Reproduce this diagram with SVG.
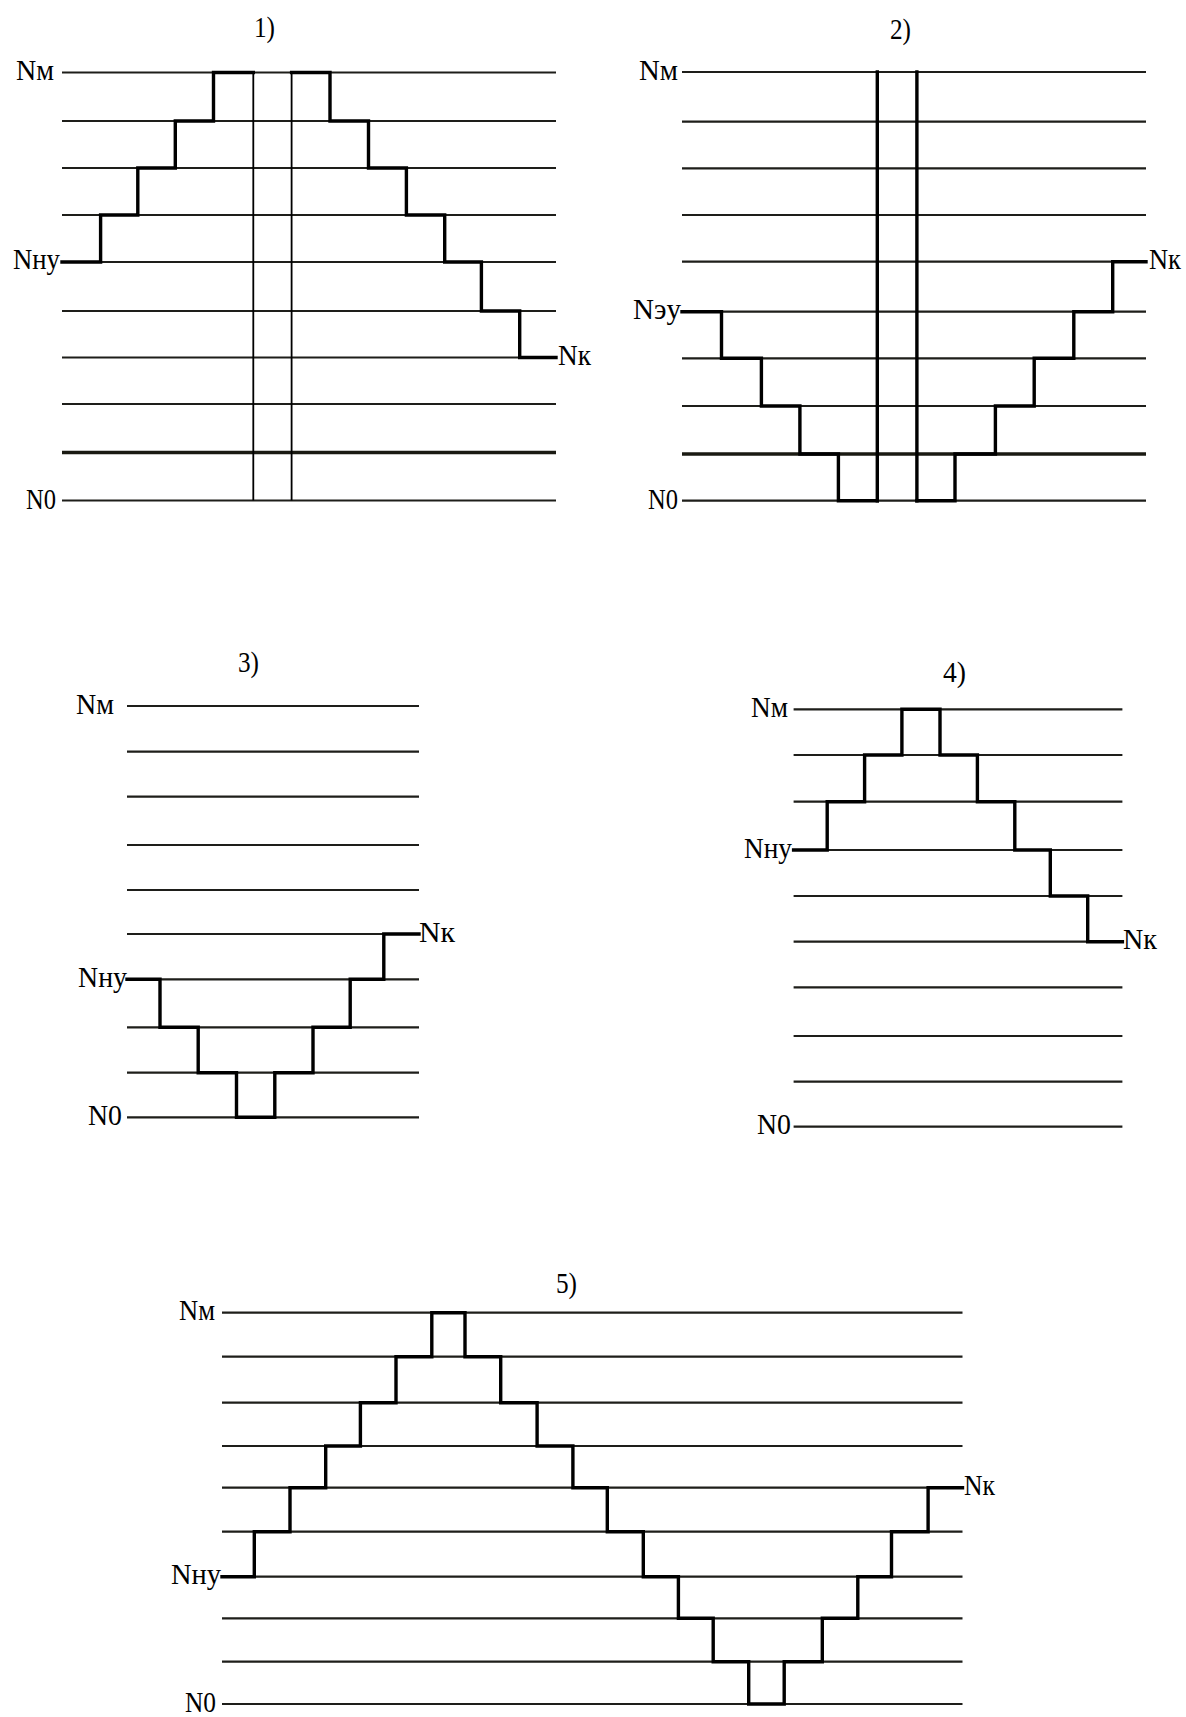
<svg xmlns="http://www.w3.org/2000/svg" width="1186" height="1717" viewBox="0 0 1186 1717">
  <style>
    .grid { stroke: #1e1e1a; stroke-width: 2.2; fill: none; }
    .grid-heavy { stroke: #1a1a12; stroke-width: 3.6; fill: none; }
    .step { stroke: #000; stroke-width: 3.4; fill: none; stroke-linejoin: miter; stroke-linecap: square; }
    .thin { stroke: #000; stroke-width: 1.8; fill: none; }
    .lbl { font-family: "Liberation Serif", "Times New Roman", serif; font-size: 29px; fill: #000; }
  </style>

  <rect width="1186" height="1717" fill="#fff"/>

  <!-- Panel 1 -->
  <g id="panel-1">
    <g id="panel-1-levels">
      <path class="grid" d="M62,72.5H556 M62,121H556 M62,168H556 M62,215H556 M62,262H556 M62,311H556 M62,357.5H556 M62,404H556 M62,500.5H556"/>
      <path class="grid-heavy" d="M62,452.5H556"/>
    </g>
    <g id="panel-1-connectors">
      <path class="thin" d="M253.3,72.5V500.5 M291.6,72.5V500.5"/>
      <path class="step" d="M62,262H100.6V215H137.8V168H175.3V121H213.5V72.5H253.3"/>
      <path class="step" d="M291.6,72.5H330V121H368.5V168H406.4V215H444.7V262H481.4V311H519.7V357.5H556"/>
    </g>
    <text class="lbl" x="254" y="37" textLength="21" lengthAdjust="spacingAndGlyphs">1)</text>
    <text class="lbl" x="16" y="80" textLength="38" lengthAdjust="spacingAndGlyphs">Nм</text>
    <text class="lbl" x="13" y="269" textLength="47" lengthAdjust="spacingAndGlyphs">Nну</text>
    <text class="lbl" x="558" y="365" textLength="33" lengthAdjust="spacingAndGlyphs">Nк</text>
    <text class="lbl" x="26" y="509" textLength="30" lengthAdjust="spacingAndGlyphs">N0</text>
  </g>

  <!-- Panel 2 -->
  <g id="panel-2">
    <g id="panel-2-levels">
      <path class="grid" d="M682,72H1146 M682,121.7H1146 M682,168.3H1146 M682,215H1146 M682,261.7H1146 M682,311.7H1146 M682,358.3H1146 M682,406H1146 M682,500.7H1146"/>
      <path class="grid-heavy" d="M682,454H1146"/>
    </g>
    <g id="panel-2-connectors">
      <path class="step" d="M877.3,72V500.7 M916.9,72V500.7"/>
      <path class="step" d="M682,311.7H721.5V358.3H761.4V406H799.9V454H838.4V500.7H877.3"/>
      <path class="step" d="M916.9,500.7H955V454H995.4V406H1034.2V358.3H1073.8V311.7H1112.7V261.7H1146"/>
    </g>
    <text class="lbl" x="890" y="39" textLength="21" lengthAdjust="spacingAndGlyphs">2)</text>
    <text class="lbl" x="639" y="79.5" textLength="39" lengthAdjust="spacingAndGlyphs">Nм</text>
    <text class="lbl" x="633" y="319" textLength="48" lengthAdjust="spacingAndGlyphs">Nэу</text>
    <text class="lbl" x="1149" y="269" textLength="32" lengthAdjust="spacingAndGlyphs">Nк</text>
    <text class="lbl" x="648" y="508.5" textLength="30" lengthAdjust="spacingAndGlyphs">N0</text>
  </g>

  <!-- Panel 3 -->
  <g id="panel-3">
    <g id="panel-3-levels">
      <path class="grid" d="M127,706H419 M127,751.7H419 M127,796.7H419 M127,845H419 M127,890H419 M127,934H419 M127,979.3H419 M127,1027.3H419 M127,1072.7H419 M127,1117.3H419"/>
    </g>
    <g id="panel-3-connectors">
      <path class="step" d="M127,979.3H160V1027.3H198.2V1072.7H236.5V1117.3H274.8V1072.7H313V1027.3H350.2V979.3H383.8V934H419"/>
    </g>
    <text class="lbl" x="238" y="672" textLength="21" lengthAdjust="spacingAndGlyphs">3)</text>
    <text class="lbl" x="76" y="713.5" textLength="38" lengthAdjust="spacingAndGlyphs">Nм</text>
    <text class="lbl" x="78" y="987" textLength="49" lengthAdjust="spacingAndGlyphs">Nну</text>
    <text class="lbl" x="419" y="942" textLength="36" lengthAdjust="spacingAndGlyphs">Nк</text>
    <text class="lbl" x="88" y="1125" textLength="34" lengthAdjust="spacingAndGlyphs">N0</text>
  </g>

  <!-- Panel 4 -->
  <g id="panel-4">
    <g id="panel-4-levels">
      <path class="grid" d="M793.6,709.3H1122.4 M793.6,755H1122.4 M793.6,801.7H1122.4 M793.6,850H1122.4 M793.6,896H1122.4 M793.6,941.7H1122.4 M793.6,987.3H1122.4 M793.6,1036H1122.4 M793.6,1081.7H1122.4 M793.6,1126.7H1122.4"/>
    </g>
    <g id="panel-4-connectors">
      <path class="step" d="M793.6,850H827.2V801.7H864.6V755H901.9V709.3H940V755H977.4V801.7H1014.8V850H1050.3V896H1087.7V941.7H1122.4"/>
    </g>
    <text class="lbl" x="943" y="682" textLength="23" lengthAdjust="spacingAndGlyphs">4)</text>
    <text class="lbl" x="751" y="717" textLength="37" lengthAdjust="spacingAndGlyphs">Nм</text>
    <text class="lbl" x="744" y="857.5" textLength="48" lengthAdjust="spacingAndGlyphs">Nну</text>
    <text class="lbl" x="1123" y="949" textLength="34" lengthAdjust="spacingAndGlyphs">Nк</text>
    <text class="lbl" x="757" y="1134" textLength="34" lengthAdjust="spacingAndGlyphs">N0</text>
  </g>

  <!-- Panel 5 -->
  <g id="panel-5">
    <g id="panel-5-levels">
      <path class="grid" d="M222,1312.7H962.5 M222,1356.7H962.5 M222,1402.7H962.5 M222,1446H962.5 M222,1487.7H962.5 M222,1531.7H962.5 M222,1576.7H962.5 M222,1618.3H962.5 M222,1661.7H962.5 M222,1704H962.5"/>
    </g>
    <g id="panel-5-connectors">
      <path class="step" d="M222,1576.7H254.3V1531.7H290V1487.7H325.7V1446H360.4V1402.7H396V1356.7H431.8V1312.7H465V1356.7H500.7V1402.7H537.1V1446H572.9V1487.7H607.3V1531.7H643.3V1576.7H678.4V1618.3H713.2V1661.7H748.7V1704H784.2V1661.7H822.3V1618.3H857.8V1576.7H891.5V1531.7H928.1V1487.7H962.5"/>
    </g>
    <text class="lbl" x="556" y="1293" textLength="21" lengthAdjust="spacingAndGlyphs">5)</text>
    <text class="lbl" x="179" y="1320" textLength="36" lengthAdjust="spacingAndGlyphs">Nм</text>
    <text class="lbl" x="171" y="1584" textLength="50" lengthAdjust="spacingAndGlyphs">Nну</text>
    <text class="lbl" x="964" y="1495" textLength="31" lengthAdjust="spacingAndGlyphs">Nк</text>
    <text class="lbl" x="185" y="1712" textLength="31" lengthAdjust="spacingAndGlyphs">N0</text>
  </g>
</svg>
